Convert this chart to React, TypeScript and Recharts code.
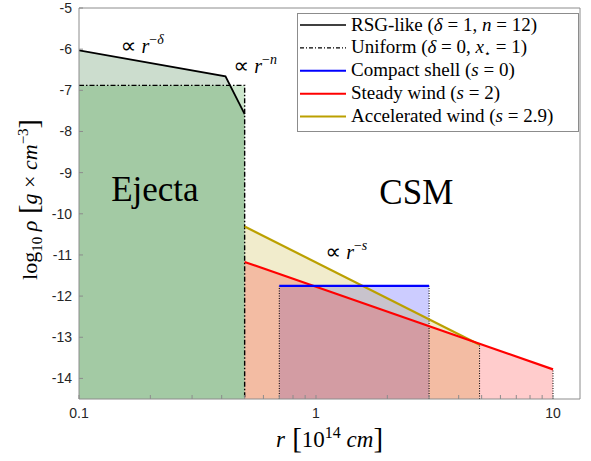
import React from 'react';
import { ComposedChart, Area, Line, XAxis, YAxis, ReferenceDot, Legend, Label } from 'recharts';

// ---- axes ----
const X_DOMAIN: [number, number] = [0.1, 13];
const Y_DOMAIN: [number, number] = [-14.5, -5];
const xMajorTicks = [0.1, 1, 10];
const xMinorTicks = [0.2, 0.3, 0.4, 0.5, 0.6, 0.7, 0.8, 0.9, 2, 3, 4, 5, 6, 7, 8, 9];
const yTicks = [-14, -13, -12, -11, -10, -9, -8, -7, -6, -5];

// ---- series (r in 1e14 cm, log10 rho) ----
const rsgR = [0.1, 0.415, 0.5];
const rsgRho = [-6.03, -6.66, -7.58];
const uniformR = [0.1, 0.5];
const uniformRho = [-6.88, -6.88];
const shellR = [0.7, 3];
const shellRho = [-11.75, -11.75];
const steadyR = [0.5, 10];
const steadyRho = [-11.17, -13.78];
const accelR = [0.5, 4.9];
const accelRho = [-10.31, -13.18];

// ---- annotations ----
const powerLabels = ['δ', 'n', 's'];
const powerR = [0.15, 0.449, 1.096];
const powerRho = [-6.09, -6.585, -11.1];
const regionLabels = ['Ejecta', 'CSM'];
const regionR = [0.209, 2.65];
const regionRho = [-9.68, -9.76];

const legendNames = ['RSG-like', 'Uniform', 'Compact shell', 'Steady wind', 'Accelerated wind'];

const pts = (r: number[], rho: number[]) => r.map((v, i) => ({ r: v, rho: rho[i] }));
const yMin = Y_DOMAIN[0];
const edge = (r: number, top: number) => [{ r, rho: yMin }, { r, rho: top }];

const rsgPts = pts(rsgR, rsgRho);
const uniformPts = pts(uniformR, uniformRho);
const uniformLine = [...uniformPts, { r: uniformR[uniformR.length - 1], rho: yMin }];
const shellPts = pts(shellR, shellRho);
const steadyPts = pts(steadyR, steadyRho);
const accelPts = pts(accelR, accelRho);
const dottedEdges = [
  edge(shellR[0], shellRho[0]),
  edge(shellR[1], shellRho[1]),
  edge(accelR[1], accelRho[1]),
  edge(steadyR[1], steadyRho[1]),
];

const SERIF = '"Liberation Serif", "Times New Roman", serif';
const SANS = '"Liberation Sans", Arial, sans-serif';
const AXIS = '#8c8c8c';
const OLIVE = '#bba000';
const tickStyle = { fill: '#262626', fontSize: 14, fontFamily: SANS };

const XLabel = (props: any) => {
  const vb = props.viewBox;
  const cx = vb.x + vb.width / 2;
  const y = vb.y + 48;
  return (
    <text x={cx} y={y} textAnchor="middle" fontFamily={SERIF} fontSize={23} fill="#000">
      <tspan fontStyle="italic">r</tspan>
      <tspan fontSize={29} dy={1}>{'  ['}</tspan>
      <tspan dy={-1}>10</tspan>
      <tspan fontSize={16} dy={-9}>14</tspan>
      <tspan dy={9} fontStyle="italic">{' cm'}</tspan>
      <tspan fontSize={29} dy={1}>]</tspan>
    </text>
  );
};

const YLabel = (props: any) => {
  const vb = props.viewBox;
  const cx = vb.x + vb.width - 42;
  const cy = vb.y + vb.height / 2 - 4;
  return (
    <text transform={`translate(${cx},${cy}) rotate(-90)`} x={0} y={0} textAnchor="middle" fontFamily={SERIF} fontSize={22} fill="#000">
      <tspan>log</tspan>
      <tspan fontSize={15} dy={5}>10</tspan>
      <tspan dy={-5} fontStyle="italic">{' ρ'}</tspan>
      <tspan fontSize={28} dy={1}>{'  ['}</tspan>
      <tspan dy={-1} fontStyle="italic">g</tspan>
      <tspan>{' × '}</tspan>
      <tspan fontStyle="italic">cm</tspan>
      <tspan fontSize={15} dy={-9}>−3</tspan>
      <tspan fontSize={28} dy={10}>]</tspan>
    </text>
  );
};

const PowerText = (sym: string) => (p: any) => (
  <text x={p.cx} y={p.cy} fontFamily={SERIF} fontSize={20} fill="#000">
    <tspan fontFamily='"DejaVu Sans", sans-serif' fontSize={22}>∝</tspan>
    <tspan fontStyle="italic">{' r'}</tspan>
    <tspan fontSize={14} dy={-9}>−</tspan>
    <tspan fontSize={14} fontStyle="italic">{sym}</tspan>
  </text>
);

const RegionText = (txt: string) => (p: any) => (
  <text x={p.cx} y={p.cy} textAnchor="middle" fontFamily={SERIF} fontSize={35} fill="#000">
    {txt}
  </text>
);

const legendStyles = [
  { stroke: '#000', dash: undefined as string | undefined, w: 1.6 },
  { stroke: '#000', dash: '4 2 1 2', w: 1.3 },
  { stroke: '#0000ff', dash: undefined, w: 2 },
  { stroke: '#ff0000', dash: undefined, w: 2 },
  { stroke: OLIVE, dash: undefined, w: 2 },
];

const legendParams = [
  <>
    {' ('}<tspan fontStyle="italic">δ</tspan>{' = 1, '}<tspan fontStyle="italic">n</tspan>{' = 12)'}
  </>,
  <>
    {' ('}<tspan fontStyle="italic">δ</tspan>{' = 0, '}<tspan fontStyle="italic">x</tspan>
    <tspan fontSize={11} dy={4}>⋆</tspan><tspan dy={-4}>{' = 1)'}</tspan>
  </>,
  <>{' ('}<tspan fontStyle="italic">s</tspan>{' = 0)'}</>,
  <>{' ('}<tspan fontStyle="italic">s</tspan>{' = 2)'}</>,
  <>{' ('}<tspan fontStyle="italic">s</tspan>{' = 2.9)'}</>,
];

const LegendBox = () => (
  <svg width={282} height={119} style={{ display: 'block' }}>
    <rect x={0.5} y={0.5} width={281} height={118} fill="#fff" stroke={AXIS} strokeWidth={1} />
    {legendNames.map((name, i) => {
      const y = 12 + i * 22.9;
      const s = legendStyles[i];
      return (
        <g key={name}>
          <line x1={3} x2={49} y1={y} y2={y} stroke={s.stroke} strokeWidth={s.w} strokeDasharray={s.dash} />
          <text x={54} y={y + 5.5} fontFamily={SERIF} fontSize={19} fill="#000">
            {name}
            {legendParams[i]}
          </text>
        </g>
      );
    })}
  </svg>
);

const allXTicks = [...xMajorTicks, ...xMinorTicks].sort((a, b) => a - b);

export default function App() {
  return (
    <div style={{ position: 'absolute', left: 0, top: 0, width: 591, height: 461, background: '#fff' }}>
      <ComposedChart width={591} height={461} margin={{ top: 7, right: 10, bottom: 61, left: 78 }}>
        <XAxis
          xAxisId={0}
          dataKey="r"
          type="number"
          scale="log"
          domain={X_DOMAIN}
          allowDataOverflow
          ticks={allXTicks}
          interval={0}
          tickFormatter={(v: number) => (xMajorTicks.includes(v) ? String(v) : '')}
          tickSize={-4}
          tickMargin={13}
          height={1}
          axisLine={{ stroke: AXIS }}
          tickLine={{ stroke: AXIS }}
          tick={tickStyle}
        >
          <Label content={XLabel} />
        </XAxis>
        <XAxis
          xAxisId="top"
          orientation="top"
          dataKey="r"
          type="number"
          scale="log"
          domain={X_DOMAIN}
          allowDataOverflow
          ticks={allXTicks}
          interval={0}
          tickSize={-4}
          height={1}
          axisLine={{ stroke: AXIS }}
          tickLine={{ stroke: AXIS }}
          tick={false}
        />
        <YAxis
          yAxisId={0}
          type="number"
          domain={Y_DOMAIN}
          allowDataOverflow
          ticks={yTicks}
          interval={0}
          tickSize={-4}
          tickMargin={11}
          width={1}
          axisLine={{ stroke: AXIS }}
          tickLine={{ stroke: AXIS }}
          tick={tickStyle}
        >
          <Label content={YLabel} />
        </YAxis>
        <YAxis
          yAxisId="right"
          orientation="right"
          type="number"
          domain={Y_DOMAIN}
          allowDataOverflow
          ticks={yTicks}
          interval={0}
          tickSize={-4}
          width={1}
          axisLine={{ stroke: AXIS }}
          tickLine={{ stroke: AXIS }}
          tick={false}
        />

        {/* fills */}
        <Area data={rsgPts} dataKey="rho" type="linear" baseValue={yMin} stroke="none" fill="rgb(0,85,10)" fillOpacity={0.2} isAnimationActive={false} />
        <Area data={uniformPts} dataKey="rho" type="linear" baseValue={yMin} stroke="none" fill="rgb(0,128,0)" fillOpacity={0.2} isAnimationActive={false} />
        <Area data={shellPts} dataKey="rho" type="linear" baseValue={yMin} stroke="none" fill="#0000ff" fillOpacity={0.2} isAnimationActive={false} />
        <Area data={accelPts} dataKey="rho" type="linear" baseValue={yMin} stroke="none" fill={OLIVE} fillOpacity={0.2} isAnimationActive={false} />
        <Area data={steadyPts} dataKey="rho" type="linear" baseValue={yMin} stroke="none" fill="#ff0000" fillOpacity={0.2} isAnimationActive={false} />

        {/* edges */}
        {dottedEdges.map((d, i) => (
          <Line key={'e' + i} data={d} dataKey="rho" type="linear" stroke="#000" strokeWidth={1} strokeDasharray="1 1.5" dot={false} isAnimationActive={false} />
        ))}
        <Line data={uniformLine} dataKey="rho" type="linear" stroke="#000" strokeWidth={1.4} strokeDasharray="5 2 1.5 2" dot={false} isAnimationActive={false} />
        <Line data={rsgPts} dataKey="rho" type="linear" stroke="#000" strokeWidth={1.8} dot={false} isAnimationActive={false} />
        <Line data={accelPts} dataKey="rho" type="linear" stroke={OLIVE} strokeWidth={2.2} dot={false} isAnimationActive={false} />
        <Line data={steadyPts} dataKey="rho" type="linear" stroke="#ff0000" strokeWidth={2.2} dot={false} isAnimationActive={false} />
        <Line data={shellPts} dataKey="rho" type="linear" stroke="#0000ff" strokeWidth={2.2} dot={false} isAnimationActive={false} />

        {powerLabels.map((s, i) => (
          <ReferenceDot key={'p' + s} x={powerR[i]} y={powerRho[i]} r={0} ifOverflow="visible" shape={PowerText(s)} />
        ))}
        {regionLabels.map((t, i) => (
          <ReferenceDot key={'t' + t} x={regionR[i]} y={regionRho[i]} r={0} ifOverflow="visible" shape={RegionText(t)} />
        ))}

        <Legend
          verticalAlign="middle"
          align="center"
          layout="horizontal"
          content={() => <LegendBox />}
          wrapperStyle={{ left: 297, top: 13, width: 282, height: 119 }}
        />
      </ComposedChart>
    </div>
  );
}
